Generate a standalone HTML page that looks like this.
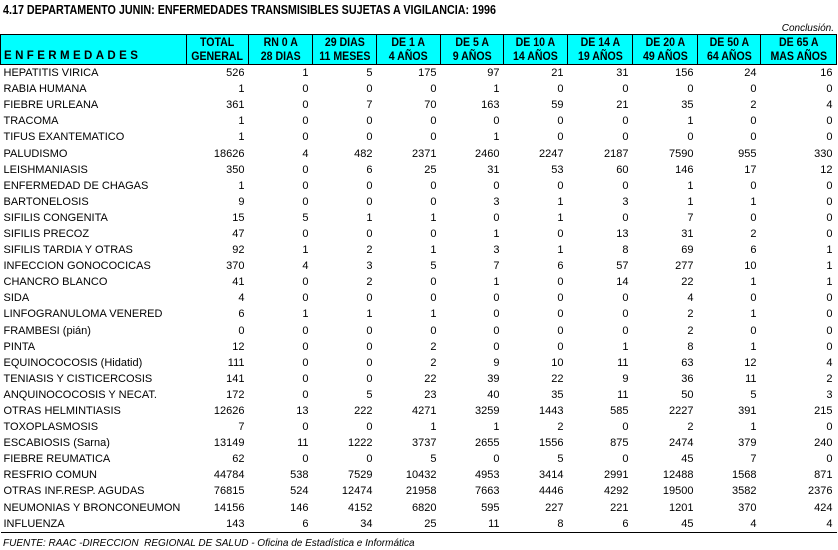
<!DOCTYPE html>
<html><head><meta charset="utf-8"><style>
body{margin:0;background:#fff;width:838px;height:550px;overflow:hidden;position:relative;font-family:"Liberation Sans",Arial,sans-serif;color:#000}
.t{position:absolute;left:3px;top:3px;font-weight:bold;font-size:12.5px;transform:scaleX(0.86);transform-origin:0 0;white-space:nowrap}
.c{position:absolute;right:4px;top:23px;font-style:italic;font-size:10px}
table{position:absolute;left:0;top:34px;border-collapse:collapse;table-layout:fixed;width:836px;font-size:11px}
th{background:#00ffff;border:1px solid #000;font-size:11.5px;line-height:14px;height:28px;padding:0;font-weight:bold;vertical-align:bottom}
th span{display:inline-block;transform:scaleX(0.92)}
th.e{text-align:left;letter-spacing:3.4px;padding-left:3px;padding-bottom:1px}
td{height:16.1px;padding:0 4px 0 0;text-align:right;white-space:nowrap;line-height:16px}
td:first-child{text-align:left;padding-left:3px}
tr:last-child td{border-bottom:1px solid #000}
.f{position:absolute;left:3px;top:538px;font-style:italic;font-size:10px;white-space:nowrap}
</style></head><body>
<div class="t">4.17 DEPARTAMENTO JUNIN: ENFERMEDADES TRANSMISIBLES SUJETAS A VIGILANCIA: 1996</div>
<div class="c">Conclusión.</div>
<table>
<colgroup><col style="width:186px"><col style="width:62px"><col style="width:64px"><col style="width:64px"><col style="width:64px"><col style="width:63px"><col style="width:64px"><col style="width:65px"><col style="width:65px"><col style="width:63px"><col style="width:76px"></colgroup>
<tr><th class="e">ENFERMEDADES</th><th><span>TOTAL<br>GENERAL</span></th><th><span>RN 0 A<br>28 DIAS</span></th><th><span>29 DIAS<br>11 MESES</span></th><th><span>DE 1 A<br>4 AÑOS</span></th><th><span>DE 5 A<br>9 AÑOS</span></th><th><span>DE 10 A<br>14 AÑOS</span></th><th><span>DE 14 A<br>19 AÑOS</span></th><th><span>DE 20 A<br>49 AÑOS</span></th><th><span>DE 50 A<br>64 AÑOS</span></th><th><span>DE 65 A<br>MAS AÑOS</span></th></tr>
<tr><td>HEPATITIS VIRICA</td><td>526</td><td>1</td><td>5</td><td>175</td><td>97</td><td>21</td><td>31</td><td>156</td><td>24</td><td>16</td></tr>
<tr><td>RABIA HUMANA</td><td>1</td><td>0</td><td>0</td><td>0</td><td>1</td><td>0</td><td>0</td><td>0</td><td>0</td><td>0</td></tr>
<tr><td>FIEBRE URLEANA</td><td>361</td><td>0</td><td>7</td><td>70</td><td>163</td><td>59</td><td>21</td><td>35</td><td>2</td><td>4</td></tr>
<tr><td>TRACOMA</td><td>1</td><td>0</td><td>0</td><td>0</td><td>0</td><td>0</td><td>0</td><td>1</td><td>0</td><td>0</td></tr>
<tr><td>TIFUS EXANTEMATICO</td><td>1</td><td>0</td><td>0</td><td>0</td><td>1</td><td>0</td><td>0</td><td>0</td><td>0</td><td>0</td></tr>
<tr><td>PALUDISMO</td><td>18626</td><td>4</td><td>482</td><td>2371</td><td>2460</td><td>2247</td><td>2187</td><td>7590</td><td>955</td><td>330</td></tr>
<tr><td>LEISHMANIASIS</td><td>350</td><td>0</td><td>6</td><td>25</td><td>31</td><td>53</td><td>60</td><td>146</td><td>17</td><td>12</td></tr>
<tr><td>ENFERMEDAD DE CHAGAS</td><td>1</td><td>0</td><td>0</td><td>0</td><td>0</td><td>0</td><td>0</td><td>1</td><td>0</td><td>0</td></tr>
<tr><td>BARTONELOSIS</td><td>9</td><td>0</td><td>0</td><td>0</td><td>3</td><td>1</td><td>3</td><td>1</td><td>1</td><td>0</td></tr>
<tr><td>SIFILIS CONGENITA</td><td>15</td><td>5</td><td>1</td><td>1</td><td>0</td><td>1</td><td>0</td><td>7</td><td>0</td><td>0</td></tr>
<tr><td>SIFILIS PRECOZ</td><td>47</td><td>0</td><td>0</td><td>0</td><td>1</td><td>0</td><td>13</td><td>31</td><td>2</td><td>0</td></tr>
<tr><td>SIFILIS TARDIA Y OTRAS</td><td>92</td><td>1</td><td>2</td><td>1</td><td>3</td><td>1</td><td>8</td><td>69</td><td>6</td><td>1</td></tr>
<tr><td>INFECCION GONOCOCICAS</td><td>370</td><td>4</td><td>3</td><td>5</td><td>7</td><td>6</td><td>57</td><td>277</td><td>10</td><td>1</td></tr>
<tr><td>CHANCRO BLANCO</td><td>41</td><td>0</td><td>2</td><td>0</td><td>1</td><td>0</td><td>14</td><td>22</td><td>1</td><td>1</td></tr>
<tr><td>SIDA</td><td>4</td><td>0</td><td>0</td><td>0</td><td>0</td><td>0</td><td>0</td><td>4</td><td>0</td><td>0</td></tr>
<tr><td>LINFOGRANULOMA VENERED</td><td>6</td><td>1</td><td>1</td><td>1</td><td>0</td><td>0</td><td>0</td><td>2</td><td>1</td><td>0</td></tr>
<tr><td>FRAMBESI (pián)</td><td>0</td><td>0</td><td>0</td><td>0</td><td>0</td><td>0</td><td>0</td><td>2</td><td>0</td><td>0</td></tr>
<tr><td>PINTA</td><td>12</td><td>0</td><td>0</td><td>2</td><td>0</td><td>0</td><td>1</td><td>8</td><td>1</td><td>0</td></tr>
<tr><td>EQUINOCOCOSIS (Hidatid)</td><td>111</td><td>0</td><td>0</td><td>2</td><td>9</td><td>10</td><td>11</td><td>63</td><td>12</td><td>4</td></tr>
<tr><td>TENIASIS Y CISTICERCOSIS</td><td>141</td><td>0</td><td>0</td><td>22</td><td>39</td><td>22</td><td>9</td><td>36</td><td>11</td><td>2</td></tr>
<tr><td>ANQUINOCOCOSIS Y NECAT.</td><td>172</td><td>0</td><td>5</td><td>23</td><td>40</td><td>35</td><td>11</td><td>50</td><td>5</td><td>3</td></tr>
<tr><td>OTRAS HELMINTIASIS</td><td>12626</td><td>13</td><td>222</td><td>4271</td><td>3259</td><td>1443</td><td>585</td><td>2227</td><td>391</td><td>215</td></tr>
<tr><td>TOXOPLASMOSIS</td><td>7</td><td>0</td><td>0</td><td>1</td><td>1</td><td>2</td><td>0</td><td>2</td><td>1</td><td>0</td></tr>
<tr><td>ESCABIOSIS (Sarna)</td><td>13149</td><td>11</td><td>1222</td><td>3737</td><td>2655</td><td>1556</td><td>875</td><td>2474</td><td>379</td><td>240</td></tr>
<tr><td>FIEBRE REUMATICA</td><td>62</td><td>0</td><td>0</td><td>5</td><td>0</td><td>5</td><td>0</td><td>45</td><td>7</td><td>0</td></tr>
<tr><td>RESFRIO COMUN</td><td>44784</td><td>538</td><td>7529</td><td>10432</td><td>4953</td><td>3414</td><td>2991</td><td>12488</td><td>1568</td><td>871</td></tr>
<tr><td>OTRAS INF.RESP. AGUDAS</td><td>76815</td><td>524</td><td>12474</td><td>21958</td><td>7663</td><td>4446</td><td>4292</td><td>19500</td><td>3582</td><td>2376</td></tr>
<tr><td>NEUMONIAS Y BRONCONEUMON</td><td>14156</td><td>146</td><td>4152</td><td>6820</td><td>595</td><td>227</td><td>221</td><td>1201</td><td>370</td><td>424</td></tr>
<tr><td>INFLUENZA</td><td>143</td><td>6</td><td>34</td><td>25</td><td>11</td><td>8</td><td>6</td><td>45</td><td>4</td><td>4</td></tr>
</table>
<div class="f">FUENTE: RAAC -DIRECCION&nbsp; REGIONAL DE SALUD - Oficina de Estadística e Informática</div>
</body></html>
